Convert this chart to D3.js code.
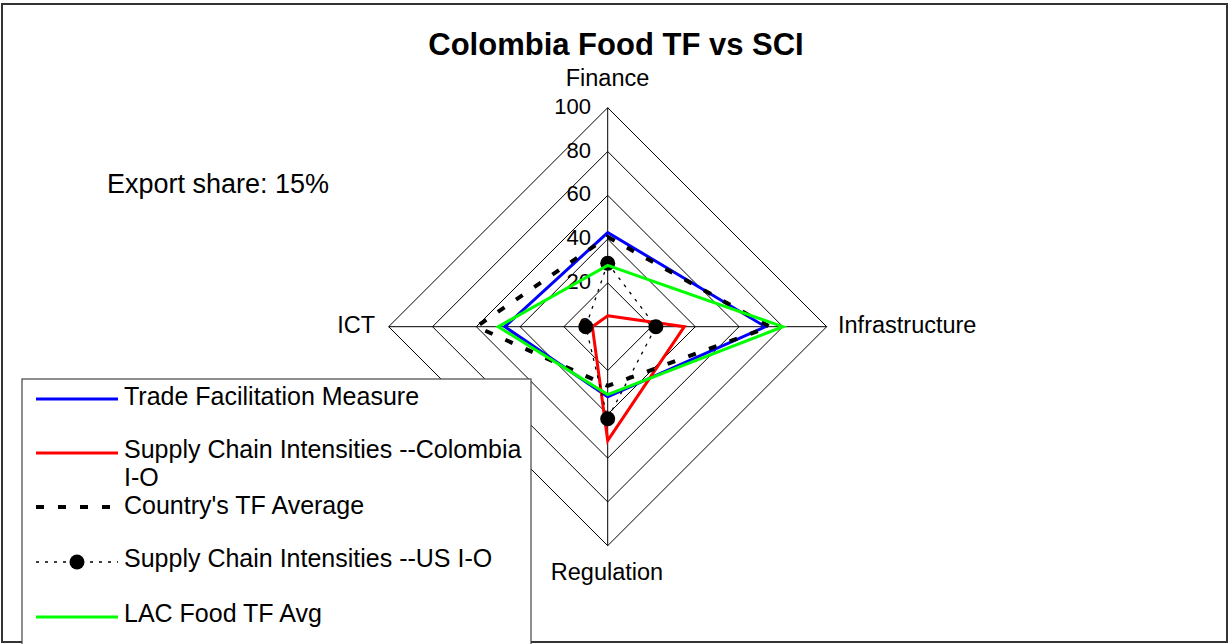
<!DOCTYPE html>
<html>
<head>
<meta charset="utf-8">
<script src="https://cdn.jsdelivr.net/npm/d3@7"></script>
<style>
  html, body { margin: 0; padding: 0; background: #fff; }
  svg { display: block; font-family: Arial, "Liberation Sans", sans-serif; }
</style>
</head>
<body>
<svg id="chart" width="1229" height="644"></svg>
<script>
// Radar axes, clockwise from the top
const categories = ["Finance", "Infrastructure", "Regulation", "ICT"];
const tickValues = [0, 20, 40, 60, 80, 100];

// Series values per axis (Finance, Infrastructure, Regulation, ICT)
const tfMeasure   = [43, 72, 32, 47];
const sciColombia = [5, 35, 52, 7];
const countryAvg  = [41, 74, 27, 60];
const sciUS       = [29, 22, 42, 10];
const lacFoodAvg  = [28, 80, 31, 50];

const seriesNames = [
  "Trade Facilitation Measure",
  "Supply Chain Intensities --Colombia I-O",
  "Country's TF Average",
  "Supply Chain Intensities --US I-O",
  "LAC Food TF Avg"
];

const series = [
  { name: seriesNames[0], values: tfMeasure,   color: "#0000ff", width: 3,   dash: null,   marker: false },
  { name: seriesNames[1], values: sciColombia, color: "#ff0000", width: 3,   dash: null,   marker: false },
  { name: seriesNames[2], values: countryAvg,  color: "#000000", width: 4,   dash: "8 14", marker: false },
  { name: seriesNames[3], values: sciUS,       color: "#000000", width: 1.3, dash: "3 6",  marker: true  },
  { name: seriesNames[4], values: lacFoodAvg,  color: "#00ff00", width: 3,   dash: null,   marker: false }
];

const svg = d3.select("#chart");
const W = 1229, H = 644;
const cx = 607.7, cy = 326.7;

svg.append("rect").attr("x", 0).attr("y", 0).attr("width", W).attr("height", H).attr("fill", "#fff");

// Chart frame
svg.append("rect")
  .attr("x", 2).attr("y", 4).attr("width", W - 4).attr("height", H - 6)
  .attr("fill", "none").attr("stroke", "#333").attr("stroke-width", 2);

// Title
svg.append("text")
  .attr("x", 616).attr("y", 55)
  .attr("text-anchor", "middle")
  .attr("font-size", 31).attr("font-weight", "bold")
  .text("Colombia Food TF vs SCI");

const r = d3.scaleLinear().domain([0, 100]).range([0, 219]);
const angle = d3.scalePoint().domain(categories).range([0, 2 * Math.PI * 3 / 4]);
const px = (cat, v) => cx + r(v) * Math.sin(angle(cat));
const py = (cat, v) => cy - r(v) * Math.cos(angle(cat));

const g = svg.append("g");

// Grid diamonds
const radial = d3.lineRadial().angle(d => d.a).radius(d => d.r).curve(d3.curveLinearClosed);
tickValues.filter(t => t > 0).forEach(t => {
  g.append("path")
    .attr("transform", `translate(${cx},${cy})`)
    .attr("d", radial(categories.map(c => ({ a: angle(c), r: r(t) }))))
    .attr("fill", "none").attr("stroke", "#000").attr("stroke-width", 1);
});

// Spokes
categories.forEach(c => {
  g.append("line")
    .attr("x1", cx).attr("y1", cy)
    .attr("x2", px(c, 100)).attr("y2", py(c, 100))
    .attr("stroke", "#000").attr("stroke-width", 1);
});

// Tick labels along the Finance axis
g.selectAll(".tick").data(tickValues).enter().append("text")
  .attr("x", 591)
  .attr("y", d => py("Finance", d) + 6)
  .attr("text-anchor", "end")
  .attr("font-size", 22)
  .text(d => d);

// Axis labels
const axisLabels = [
  { c: "Finance",        x: 607.5, y: 86,  anchor: "middle" },
  { c: "Infrastructure", x: 838,   y: 333, anchor: "start" },
  { c: "Regulation",     x: 607,   y: 580, anchor: "middle" },
  { c: "ICT",            x: 375,   y: 333, anchor: "end" }
];
axisLabels.forEach(d => {
  svg.append("text")
    .attr("x", d.x).attr("y", d.y)
    .attr("text-anchor", d.anchor)
    .attr("font-size", 23.5)
    .text(d.c);
});

// Series polygons
series.forEach(s => {
  const pts = categories.map((c, i) => ({ a: angle(c), r: r(s.values[i]) }));
  const path = g.append("path")
    .attr("transform", `translate(${cx},${cy})`)
    .attr("d", radial(pts))
    .attr("fill", "none")
    .attr("stroke", s.color)
    .attr("stroke-width", s.width)
    .attr("stroke-linejoin", "miter");
  if (s.dash) path.attr("stroke-dasharray", s.dash);
  if (s.marker) {
    g.selectAll(null).data(categories).enter().append("circle")
      .attr("cx", (c, i) => px(c, s.values[i]))
      .attr("cy", (c, i) => py(c, s.values[i]))
      .attr("r", 7.5)
      .attr("fill", "#000");
  }
});

// Annotation
svg.append("text")
  .attr("x", 107).attr("y", 193)
  .attr("font-size", 27)
  .text("Export share: 15%");

// Legend
const lg = svg.append("g");
lg.append("rect")
  .attr("x", 22).attr("y", 379).attr("width", 509).attr("height", 280)
  .attr("fill", "#fff").attr("stroke", "#444").attr("stroke-width", 1.2);

const legendRows = [
  { lineY: 399, lines: [{ t: "Trade Facilitation Measure", y: 405 }] },
  { lineY: 453, lines: [{ t: "Supply Chain Intensities --Colombia", y: 458 }, { t: "I-O", y: 486 }] },
  { lineY: 507, lines: [{ t: "Country's TF Average", y: 514 }] },
  { lineY: 562, lines: [{ t: "Supply Chain Intensities --US I-O", y: 567 }] },
  { lineY: 617, lines: [{ t: "LAC Food TF Avg", y: 622 }] }
];

series.forEach((s, i) => {
  const row = legendRows[i];
  const ln = lg.append("line")
    .attr("x1", 36).attr("x2", 118)
    .attr("y1", row.lineY).attr("y2", row.lineY)
    .attr("stroke", s.color).attr("stroke-width", s.width);
  if (s.dash) ln.attr("stroke-dasharray", s.dash);
  if (s.marker) {
    lg.append("circle").attr("cx", 77).attr("cy", row.lineY).attr("r", 7.5).attr("fill", "#000");
  }
  row.lines.forEach(l => {
    lg.append("text").attr("x", 124).attr("y", l.y).attr("font-size", 25).text(l.t);
  });
});
</script>
</body>
</html>
